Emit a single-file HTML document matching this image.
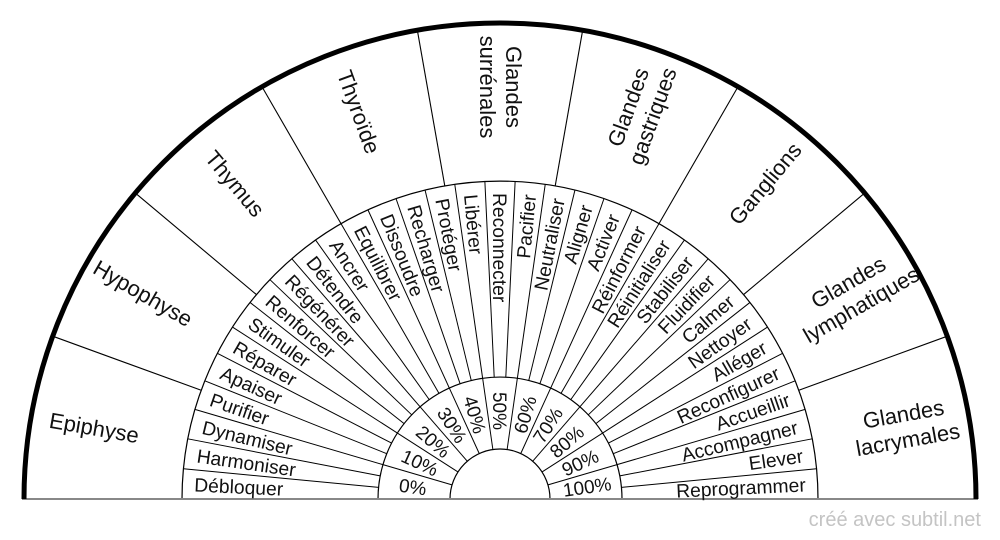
<!DOCTYPE html>
<html><head><meta charset="utf-8"><style>
html,body{margin:0;padding:0;background:#fff;width:1000px;height:540px;overflow:hidden}
svg{display:block}
text{font-family:"Liberation Sans",sans-serif;fill:#111}
</style></head><body>
<svg width="1000" height="540" viewBox="0 0 1000 540">
<g transform="translate(500,499)" stroke="#000" fill="none">
<path d="M -318 0 A 318 318 0 0 1 318 0" stroke-width="1.2"/>
<path d="M -122 0 A 122 122 0 0 1 122 0" stroke-width="1.2"/>
<path d="M -50 0 A 50 50 0 0 1 50 0" stroke-width="1.2"/>
<g stroke-width="1.1">
<line x1="-318" y1="0" x2="-476" y2="0" transform="rotate(20)"/>
<line x1="-318" y1="0" x2="-476" y2="0" transform="rotate(40)"/>
<line x1="-318" y1="0" x2="-476" y2="0" transform="rotate(60)"/>
<line x1="-318" y1="0" x2="-476" y2="0" transform="rotate(80)"/>
<line x1="-318" y1="0" x2="-476" y2="0" transform="rotate(100)"/>
<line x1="-318" y1="0" x2="-476" y2="0" transform="rotate(120)"/>
<line x1="-318" y1="0" x2="-476" y2="0" transform="rotate(140)"/>
<line x1="-318" y1="0" x2="-476" y2="0" transform="rotate(160)"/>
</g>
<g stroke-width="1">
<line x1="-122" y1="0" x2="-318" y2="0" transform="rotate(5.455)"/>
<line x1="-122" y1="0" x2="-318" y2="0" transform="rotate(10.909)"/>
<line x1="-122" y1="0" x2="-318" y2="0" transform="rotate(16.364)"/>
<line x1="-122" y1="0" x2="-318" y2="0" transform="rotate(21.818)"/>
<line x1="-122" y1="0" x2="-318" y2="0" transform="rotate(27.273)"/>
<line x1="-122" y1="0" x2="-318" y2="0" transform="rotate(32.727)"/>
<line x1="-122" y1="0" x2="-318" y2="0" transform="rotate(38.182)"/>
<line x1="-122" y1="0" x2="-318" y2="0" transform="rotate(43.636)"/>
<line x1="-122" y1="0" x2="-318" y2="0" transform="rotate(49.091)"/>
<line x1="-122" y1="0" x2="-318" y2="0" transform="rotate(54.545)"/>
<line x1="-122" y1="0" x2="-318" y2="0" transform="rotate(60)"/>
<line x1="-122" y1="0" x2="-318" y2="0" transform="rotate(65.455)"/>
<line x1="-122" y1="0" x2="-318" y2="0" transform="rotate(70.909)"/>
<line x1="-122" y1="0" x2="-318" y2="0" transform="rotate(76.364)"/>
<line x1="-122" y1="0" x2="-318" y2="0" transform="rotate(81.818)"/>
<line x1="-122" y1="0" x2="-318" y2="0" transform="rotate(87.273)"/>
<line x1="-122" y1="0" x2="-318" y2="0" transform="rotate(92.727)"/>
<line x1="-122" y1="0" x2="-318" y2="0" transform="rotate(98.182)"/>
<line x1="-122" y1="0" x2="-318" y2="0" transform="rotate(103.636)"/>
<line x1="-122" y1="0" x2="-318" y2="0" transform="rotate(109.091)"/>
<line x1="-122" y1="0" x2="-318" y2="0" transform="rotate(114.545)"/>
<line x1="-122" y1="0" x2="-318" y2="0" transform="rotate(120)"/>
<line x1="-122" y1="0" x2="-318" y2="0" transform="rotate(125.455)"/>
<line x1="-122" y1="0" x2="-318" y2="0" transform="rotate(130.909)"/>
<line x1="-122" y1="0" x2="-318" y2="0" transform="rotate(136.364)"/>
<line x1="-122" y1="0" x2="-318" y2="0" transform="rotate(141.818)"/>
<line x1="-122" y1="0" x2="-318" y2="0" transform="rotate(147.273)"/>
<line x1="-122" y1="0" x2="-318" y2="0" transform="rotate(152.727)"/>
<line x1="-122" y1="0" x2="-318" y2="0" transform="rotate(158.182)"/>
<line x1="-122" y1="0" x2="-318" y2="0" transform="rotate(163.636)"/>
<line x1="-122" y1="0" x2="-318" y2="0" transform="rotate(169.091)"/>
<line x1="-122" y1="0" x2="-318" y2="0" transform="rotate(174.545)"/>
<line x1="-50" y1="0" x2="-122" y2="0" transform="rotate(16.364)"/>
<line x1="-50" y1="0" x2="-122" y2="0" transform="rotate(32.727)"/>
<line x1="-50" y1="0" x2="-122" y2="0" transform="rotate(49.091)"/>
<line x1="-50" y1="0" x2="-122" y2="0" transform="rotate(65.455)"/>
<line x1="-50" y1="0" x2="-122" y2="0" transform="rotate(81.818)"/>
<line x1="-50" y1="0" x2="-122" y2="0" transform="rotate(98.182)"/>
<line x1="-50" y1="0" x2="-122" y2="0" transform="rotate(114.545)"/>
<line x1="-50" y1="0" x2="-122" y2="0" transform="rotate(130.909)"/>
<line x1="-50" y1="0" x2="-122" y2="0" transform="rotate(147.273)"/>
<line x1="-50" y1="0" x2="-122" y2="0" transform="rotate(163.636)"/>
</g>
<line x1="-478" y1="0" x2="478" y2="0" stroke="#888" stroke-width="2"/>
<path d="M -476 0 A 476 476 0 0 1 476 0" stroke-width="5"/>
</g>

<g transform="translate(500,499)" font-size="22" text-anchor="middle">
<text x="-412" y="8" transform="rotate(10)">Epiphyse</text>
<text x="-412" y="8" transform="rotate(30)">Hypophyse</text>
<text x="-412" y="8" transform="rotate(50)">Thymus</text>
<text x="-412" y="8" transform="rotate(70)">Thyroïde</text>
<text x="-412" y="-6" transform="rotate(90)">Glandes</text>
<text x="-412" y="20" transform="rotate(90)">surrénales</text>
<text x="412" y="-6" transform="rotate(-70)">Glandes</text>
<text x="412" y="20" transform="rotate(-70)">gastriques</text>
<text x="412" y="8" transform="rotate(-50)">Ganglions</text>
<text x="410" y="-6" transform="rotate(-30)">Glandes</text>
<text x="410" y="20" transform="rotate(-30)">lymphatiques</text>
<text x="412" y="-6" transform="rotate(-10)">Glandes</text>
<text x="412" y="20" transform="rotate(-10)">lacrymales</text>
</g>

<g transform="translate(500,499)" font-size="19.3">
<g text-anchor="start">
<text x="-306" y="7" transform="rotate(2.727)">Débloquer</text>
<text x="-306" y="7" transform="rotate(8.182)">Harmoniser</text>
<text x="-306" y="7" transform="rotate(13.636)">Dynamiser</text>
<text x="-306" y="7" transform="rotate(19.091)">Purifier</text>
<text x="-306" y="7" transform="rotate(24.545)">Apaiser</text>
<text x="-306" y="7" transform="rotate(30)">Réparer</text>
<text x="-306" y="7" transform="rotate(35.455)">Stimuler</text>
<text x="-306" y="7" transform="rotate(40.909)">Renforcer</text>
<text x="-306" y="7" transform="rotate(46.364)">Régénérer</text>
<text x="-306" y="7" transform="rotate(51.818)">Détendre</text>
<text x="-306" y="7" transform="rotate(57.273)">Ancrer</text>
<text x="-306" y="7" transform="rotate(62.727)">Equilibrer</text>
<text x="-306" y="7" transform="rotate(68.182)">Dissoudre</text>
<text x="-306" y="7" transform="rotate(73.636)">Recharger</text>
<text x="-306" y="7" transform="rotate(79.091)">Protéger</text>
<text x="-306" y="7" transform="rotate(84.545)">Libérer</text>
<text x="-306" y="7" transform="rotate(90)">Reconnecter</text>
</g>
<g text-anchor="end">
<text x="306" y="7" transform="rotate(-84.545)">Pacifier</text>
<text x="306" y="7" transform="rotate(-79.091)">Neutraliser</text>
<text x="306" y="7" transform="rotate(-73.636)">Aligner</text>
<text x="306" y="7" transform="rotate(-68.182)">Activer</text>
<text x="306" y="7" transform="rotate(-62.727)">Réinformer</text>
<text x="306" y="7" transform="rotate(-57.273)">Réinitialiser</text>
<text x="306" y="7" transform="rotate(-51.818)">Stabiliser</text>
<text x="306" y="7" transform="rotate(-46.364)">Fluidifier</text>
<text x="306" y="7" transform="rotate(-40.909)">Calmer</text>
<text x="306" y="7" transform="rotate(-35.455)">Nettoyer</text>
<text x="306" y="7" transform="rotate(-30)">Alléger</text>
<text x="306" y="7" transform="rotate(-24.545)">Reconfigurer</text>
<text x="306" y="7" transform="rotate(-19.091)">Accueillir</text>
<text x="306" y="7" transform="rotate(-13.636)">Accompagner</text>
<text x="306" y="7" transform="rotate(-8.182)">Elever</text>
<text x="306" y="7" transform="rotate(-2.727)">Reprogrammer</text>
</g>
<g text-anchor="middle" font-size="19">
<text x="-88" y="7" transform="rotate(8.182)">0%</text>
<text x="-88" y="7" transform="rotate(24.545)">10%</text>
<text x="-88" y="7" transform="rotate(40.909)">20%</text>
<text x="-88" y="7" transform="rotate(57.273)">30%</text>
<text x="-88" y="7" transform="rotate(73.636)">40%</text>
<text x="-88" y="7" transform="rotate(90)">50%</text>
<text x="88" y="7" transform="rotate(-73.636)">60%</text>
<text x="88" y="7" transform="rotate(-57.273)">70%</text>
<text x="88" y="7" transform="rotate(-40.909)">80%</text>
<text x="88" y="7" transform="rotate(-24.545)">90%</text>
<text x="88" y="7" transform="rotate(-8.182)">100%</text>
</g>
</g>
<text x="981" y="526" font-size="20" text-anchor="end" style="fill:#c4c4c4">créé avec subtil.net</text>
</svg>
</body></html>
